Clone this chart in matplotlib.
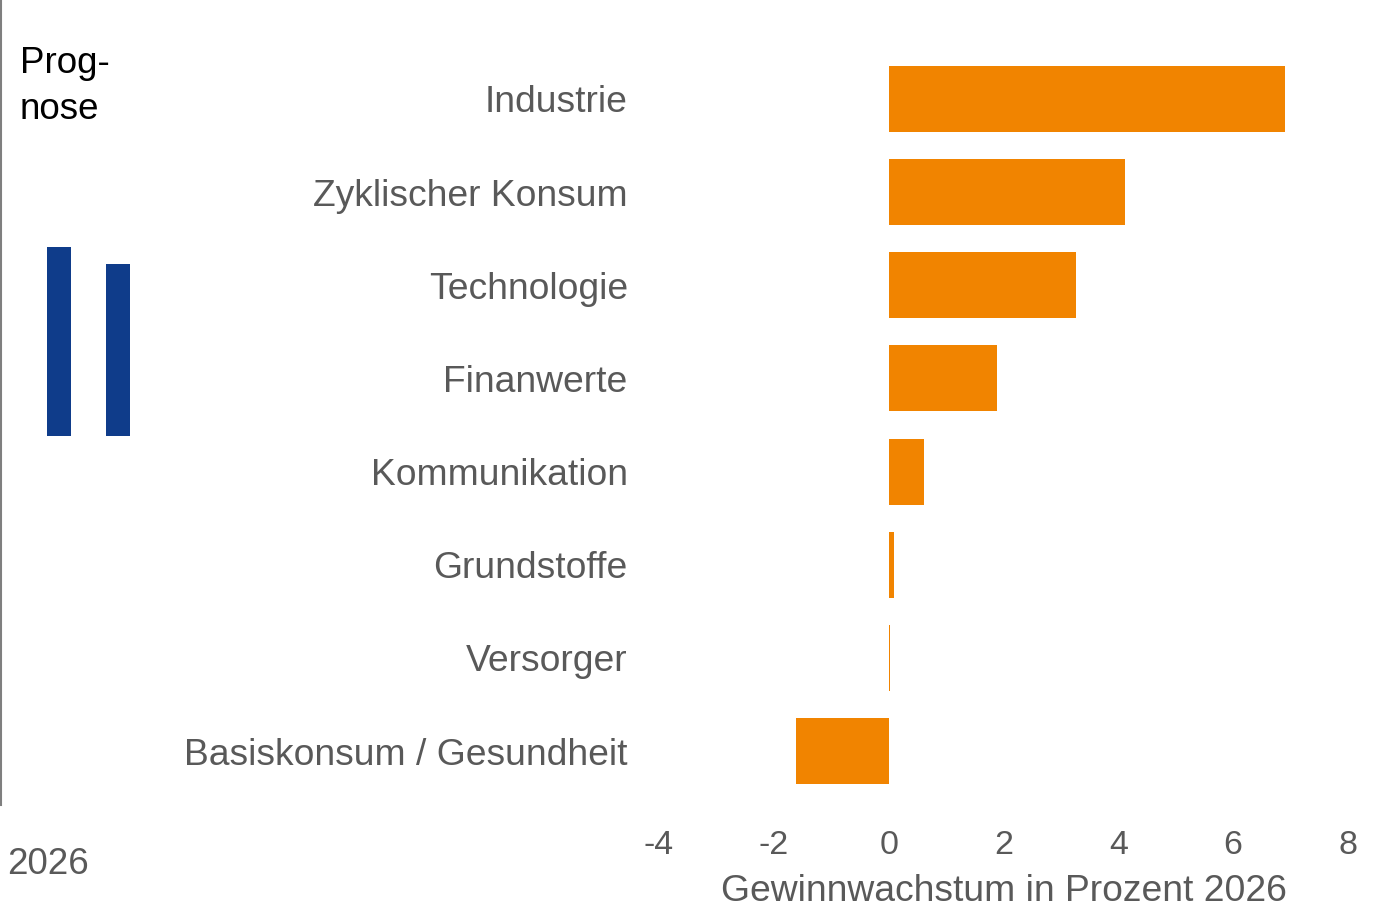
import matplotlib
matplotlib.use("Agg")
import matplotlib.pyplot as plt
from matplotlib.lines import Line2D

# data
sectors = ["Industrie", "Zyklischer Konsum", "Technologie", "Finanwerte",
           "Kommunikation", "Grundstoffe", "Versorger", "Basiskonsum / Gesundheit"]
growth = [6.9, 4.12, 3.27, 1.88, 0.61, 0.09, 0.02, -1.62]
x_ticks = [-4, -2, 0, 2, 4, 6, 8]
x_label = "Gewinnwachstum in Prozent 2026"
mini_values = [1.0, 0.91]

ORANGE = "#F18400"
BLUE = "#0F3C8A"
GREY = "#595959"

plt.rcParams["font.family"] = ["Liberation Sans", "DejaVu Sans"]

W, H = 1389, 908
fig = plt.figure(figsize=(W / 100, H / 100), dpi=100)

def px_box(x0, y0, x1, y1):
    # pixel box (top-left origin) -> figure fraction rect
    return [x0 / W, 1 - y1 / H, (x1 - x0) / W, (y1 - y0) / H]

# main bar chart
ax = fig.add_axes(px_box(659, 52.4, 1348, 797.6))
pos = list(range(len(sectors)))
ax.barh(pos, growth, height=0.71, color=ORANGE)
ax.set_ylim(len(sectors) - 0.5, -0.5)
ax.set_xlim(-4, 8)
ax.set_xticks(x_ticks)
ax.set_xticklabels([str(t) for t in x_ticks])
ax.set_yticks(pos)
ax.set_yticklabels(sectors)
ax.tick_params(axis="y", length=0, pad=22.5, labelsize=26.8, labelcolor=GREY)
ax.tick_params(axis="x", length=0, pad=23, labelsize=24.5, labelcolor=GREY)
ax.set_xlabel(x_label, fontsize=26.8, color=GREY)
ax.xaxis.set_label_coords(0.5007, -0.1255)
ax.xaxis.label.set_va("center")
for s in ax.spines.values():
    s.set_visible(False)

# small decorative blue bars on the left
ax2 = fig.add_axes(px_box(47, 247, 130, 436))
ax2.bar([0, 1], mini_values, width=0.405, color=BLUE)
ax2.set_xlim(-0.2, 1.2)
ax2.set_ylim(0, 1)
ax2.axis("off")

# left rule
fig.add_artist(Line2D([0.5 / W, 0.5 / W], [1, 1 - 805 / H], color="#7f7f7f",
                      linewidth=1.5, transform=fig.transFigure))

fig.text(20 / W, 1 - 46 / H, "Prog-\nnose", fontsize=26.5, color="black",
         va="top", ha="left", linespacing=1.42)
fig.text(7 / W, 1 - 864 / H, "2026", fontsize=26.5, color=GREY,
         va="center", ha="left")

fig.savefig("out.png", dpi=100)
